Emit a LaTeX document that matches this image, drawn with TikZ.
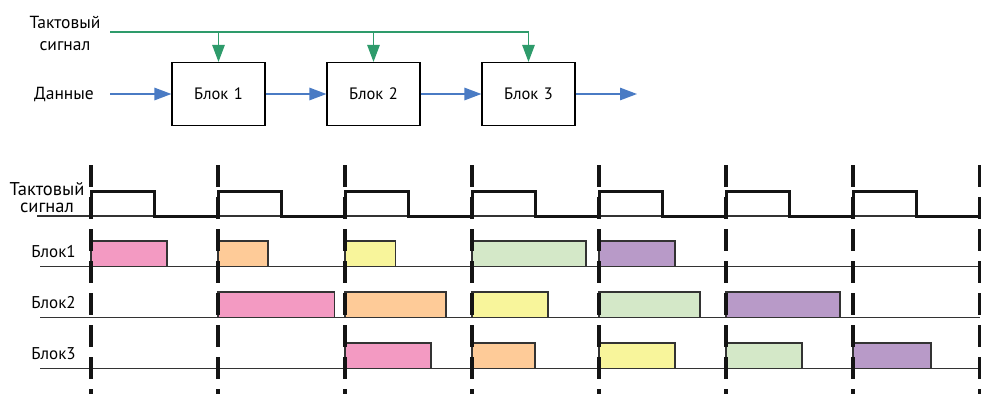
\documentclass[tikz,border=0pt]{standalone}
\usepackage{fontspec}
\setmainfont{PT Sans}
\usetikzlibrary{arrows.meta}
\definecolor{clkgreen}{HTML}{2E9B6B}
\definecolor{datblue}{HTML}{4A7BC4}
\definecolor{cpink}{HTML}{F39AC2}
\definecolor{corange}{HTML}{FECB98}
\definecolor{cyellow}{HTML}{F8F59B}
\definecolor{cgreen}{HTML}{D4E8C8}
\definecolor{cpurple}{HTML}{B89AC8}
\definecolor{lineg}{HTML}{333333}
\tikzset{
  txt/.style={font=\fontsize{17.5}{22}\selectfont, inner sep=0pt},
  tlbl/.style={font=\fontsize{17}{17}\selectfont, inner sep=0pt, align=center},
  blk/.style={draw=black, line width=1.2pt, minimum width=93pt, minimum height=63pt, inner sep=0pt, font=\fontsize{16.5}{17}\selectfont},
  gline/.style={draw=clkgreen, line width=1.3pt},
  garrow/.style={gline, -{Triangle[length=17pt,width=12.5pt]}},
  barrow/.style={draw=datblue, line width=1.3pt, -{Triangle[length=17pt,width=12.5pt]}},
  clockline/.style={draw=black!92, line width=3pt, line join=miter},
  baseline/.style={draw=lineg, line width=1.4pt},
  tick/.style={draw=black!92, line width=3.2pt, dash pattern=on 22pt off 10pt},
  bar/.style={draw=lineg, line width=1.3pt},
}
\begin{document}
\begin{tikzpicture}[x=1pt,y=-1pt]
\useasboundingbox (0,0) rectangle (981,394);
% top block diagram
\node[txt, align=center] (clk) at (65,33) {Тактовый\\сигнал};
\node[txt] (din) at (64,94) {Данные};
\node[blk] (b1) at (218.5,94) {Блок\,\,1};
\node[blk] (b2) at (373.5,94) {Блок\,\,2};
\node[blk] (b3) at (528.5,94) {Блок\,\,3};
\coordinate (cs) at (110,32);
\coordinate (ds) at (110,94);
\coordinate (dout) at (637,94);
\draw[gline] (cs) -- (b3.north |- cs);
\draw[garrow] (b1.north |- cs) -- (b1.north);
\draw[garrow] (b2.north |- cs) -- (b2.north);
\draw[garrow] (b3.north |- cs) -- (b3.north);
\draw[barrow] (ds) -- (b1.west);
\draw[barrow] (b1.east) -- (b2.west);
\draw[barrow] (b2.east) -- (b3.west);
\draw[barrow] (b3.east) -- (dout);
% timing labels
\node[tlbl, font=\fontsize{18.5}{17}\selectfont] (tclk) at (47,197.5) {Тактовый\\сигнал};
\node[tlbl] (tb1) at (53.5,252) {Блок1};
\node[tlbl] (tb2) at (53.5,303) {Блок2};
\node[tlbl] (tb3) at (53.5,354) {Блок3};
% baselines
\draw[baseline] (37,216) -- (980,216);
\draw[baseline] (40,266.5) -- (980,266.5);
\draw[baseline] (40,317.5) -- (980,317.5);
\draw[baseline] (40,368.5) -- (980,368.5);
% bars row 1
\filldraw[bar, fill=cpink]   (91,241) rectangle (167,266.5);
\filldraw[bar, fill=corange] (218,241) rectangle (268,266.5);
\filldraw[bar, fill=cyellow] (345,241) rectangle (395.5,266.5);
\filldraw[bar, fill=cgreen]  (472,241) rectangle (586,266.5);
\filldraw[bar, fill=cpurple] (599,241) rectangle (675,266.5);
% bars row 2
\filldraw[bar, fill=cpink]   (218,292) rectangle (334.5,317.5);
\filldraw[bar, fill=corange] (345,292) rectangle (446,317.5);
\filldraw[bar, fill=cyellow] (472,292) rectangle (548,317.5);
\filldraw[bar, fill=cgreen]  (599,292) rectangle (700,317.5);
\filldraw[bar, fill=cpurple] (726,292) rectangle (840,317.5);
% bars row 3
\filldraw[bar, fill=cpink]   (345,343) rectangle (431,368.5);
\filldraw[bar, fill=corange] (472,343) rectangle (535,368.5);
\filldraw[bar, fill=cyellow] (599,343) rectangle (675,368.5);
\filldraw[bar, fill=cgreen]  (726,343) rectangle (802,368.5);
\filldraw[bar, fill=cpurple] (853,343) rectangle (931,368.5);
% clock waveform
\draw[clockline] (91,216)
  \foreach \i in {0,...,6} {
    -- ({91+127*\i},191) -- ({154.5+127*\i},191) -- ({154.5+127*\i},216) -- ({218+127*\i},216)
  } -- (980,216);
% dashed clock ticks
\foreach \i in {0,...,7} {
  \draw[tick] ({91+127*\i},165) -- ({91+127*\i},394);
}
\end{tikzpicture}
\end{document}
